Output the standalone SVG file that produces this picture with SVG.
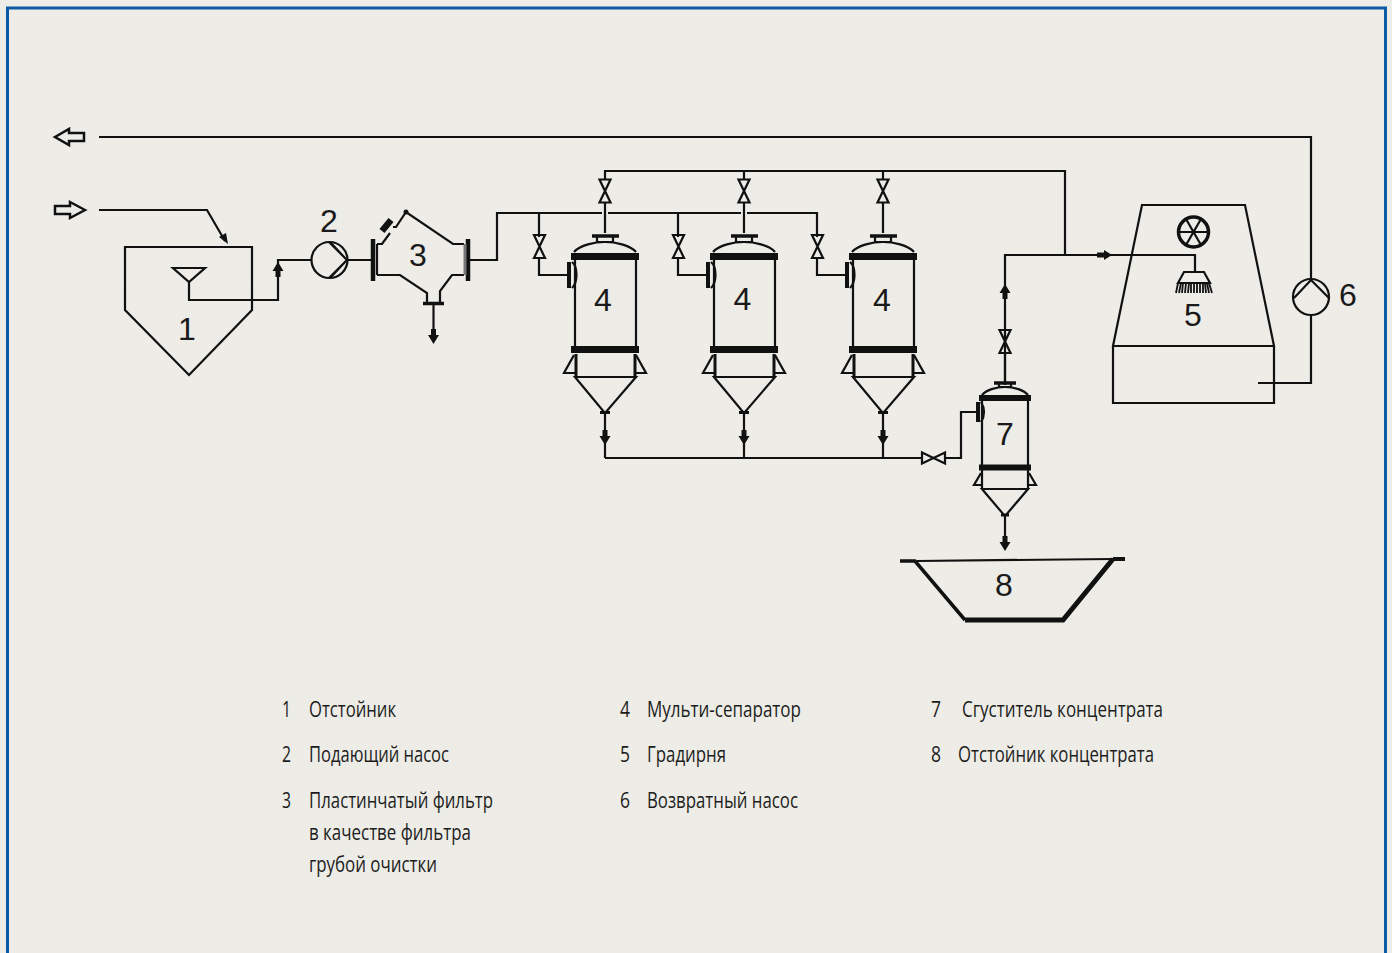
<svg xmlns="http://www.w3.org/2000/svg" xmlns:xlink="http://www.w3.org/1999/xlink" width="1392" height="953" viewBox="0 0 1392 953">
<style>
.l{fill:none;stroke:#111;stroke-width:2.200;stroke-linejoin:miter}
.t{fill:none;stroke:#111;stroke-width:7}
.n{font-family:"Liberation Sans",Arial,sans-serif;font-size:32px;fill:#1a1a1a;text-anchor:middle}
.k{font-family:"Open Sans","Liberation Sans",sans-serif;font-size:21px;font-weight:500;fill:#1c1c1c}
.h{fill:#111;stroke:none}
</style>
<defs>
<g id="vv" class="l"><path d="M-5.500-11.500H5.500L-5.500 11.500H5.500Z"/></g>
<path id="up" class="h" d="M0-8L5.500 1H2.500V7H-2.500V1H-5.500Z"/>
<path id="dn" class="h" d="M0 8L5.500-1H2.500V-7H-2.500V-1H-5.500Z"/>
<g id="sep">
<path class="t" style="stroke-width:3.500" d="M-13-34H14"/>
<path class="l" d="M-8-33V-28H8V-33"/>
<path class="l" d="M-31-18C-25-25-10-28 0-28S25-25 31-18"/>
<path class="t" d="M-34-13.500H34"/>
<path class="l" d="M-30-10V77M31-10V77"/>
<path class="t" d="M-34 79.500H34"/>
<path class="t" style="stroke-width:3" d="M-29 84V107M30 84V107"/>
<path class="l" d="M-31 85L-41 103H-30M31 85L41 103H30"/>
<path class="l" d="M-30 107H31L1 142H-1Z"/>
<path class="t" style="stroke-width:3" d="M-5 142.500H5"/>
<path class="l" d="M0 143V188"/>
<use xlink:href="#dn" href="#dn" y="167"/>
<path class="t" style="stroke-width:4" d="M-36 -8V18"/>
<path class="l" d="M-33-8C-27-3-27 12-33 18"/>
</g>
</defs>
<rect width="1392" height="953" fill="#edece7"/>
<path d="M7.500 953V8H1385.500V953" fill="none" stroke="#0b5aa5" stroke-width="3"/>
<g id="connectors" class="l">
<path d="M99 137H1311V279M1311 315V383H1258"/>
<path d="M99 210H207L225 241"/>
<path d="M189 282V300H278V260H311"/>
<path d="M347 260H371M470 260H497V213H602M608 213H741M747 213H817V237M539 213V237M678 213V237"/>
<path d="M539 258V275H568M678 258V275H707M817 258V275H846"/>
<path d="M605 180V171H1065V255M1005 385V255H1195V272M744 171V180M883 171V180"/>
<path d="M605 202V233M744 202V233M883 202V233"/>
<path d="M605 458H922M945 458H961V412H977"/>
<path d="M433.500 303V338"/>
<use xlink:href="#up" href="#up" x="278" y="270"/>
<use xlink:href="#up" href="#up" x="1005" y="292"/>
<use xlink:href="#dn" href="#dn" x="433.500" y="336"/>
<path class="h" d="M1112 255L1104 250V252.500H1097V257.500H1104V260Z"/>
<path class="h" d="M228 244L219 237L226 233Z"/>
<use xlink:href="#vv" href="#vv" x="539.500" y="246.500"/>
<use xlink:href="#vv" href="#vv" x="678.500" y="246.500"/>
<use xlink:href="#vv" href="#vv" x="817.500" y="246.500"/>
<use xlink:href="#vv" href="#vv" x="605" y="191"/>
<use xlink:href="#vv" href="#vv" x="744" y="191"/>
<use xlink:href="#vv" href="#vv" x="883" y="191"/>
<use xlink:href="#vv" href="#vv" x="1005" y="341.500"/>
<use xlink:href="#vv" href="#vv" transform="translate(933.500 458) rotate(90)"/>
</g>
<g id="n-in" class="l" style="stroke-width:2.500"><path d="M85 210L70 202V206H55V214H70V218Z"/></g>
<g id="n-out" class="l" style="stroke-width:2.500"><path d="M55 137L69 129V133H84V141H69V145Z"/></g>
<g id="n1"><path class="l" d="M125 247H252V310L189 375L125 310ZM173 268H205L189 282Z"/><text class="n" x="187" y="340">1</text></g>
<g id="n2"><circle class="l" cx="329.500" cy="260" r="18"/><path class="l" d="M329 242L347 260L329 278M331 243L345 258M345 262L331 277"/><text class="n" x="329" y="232">2</text></g>
<g id="n3">
<path class="t" style="stroke-width:4.500" d="M373 239V281M468 239V281"/>
<path class="l" d="M377 244V275M377 244H382L390 233M393 227H396L406 212L453 244H464M377 275H400L427 293V303M440 303V291L452 275H464"/>
<path style="stroke:#777;stroke-width:3;fill:none" d="M465 244V275"/>
<path class="t" style="stroke-width:6.500" d="M382 231L391 220"/>
<circle class="h" cx="406" cy="212" r="2.500"/>
<path class="t" style="stroke-width:3.500" d="M423 303.500H444"/>
<text class="n" x="418" y="266">3</text>
</g>
<g id="n4a"><use xlink:href="#sep" href="#sep" x="605" y="270"/><text class="n" x="603" y="311">4</text></g>
<g id="n4b"><use xlink:href="#sep" href="#sep" x="744" y="270"/><text class="n" x="742.500" y="310">4</text></g>
<g id="n4c"><use xlink:href="#sep" href="#sep" x="883" y="270"/><text class="n" x="882" y="311">4</text></g>
<g id="n5">
<path class="l" d="M1142 205H1245L1274 346H1113ZM1113 346V403H1274V346"/>
<circle class="l" style="stroke-width:3.500" cx="1193.500" cy="232" r="15"/>
<path class="l" d="M1179 232H1208M1186 219L1201 245M1201 219L1186 245"/>
<path class="l" d="M1178 283L1184 272H1204L1210 283Z"/>
<path class="l" style="stroke-width:1.800" d="M1176 293L1178 283M1179 293L1181 283M1182 293L1183 283M1185 293L1186 283M1188 293L1189 283M1191 293L1191 283M1194 293L1194 283M1197 293L1197 283M1200 293L1200 283M1203 293L1203 283M1206 293L1205 283M1209 293L1207 283M1212 293L1209 283"/>
<text class="n" x="1193" y="326">5</text>
</g>
<g id="n6"><circle class="l" cx="1311" cy="297" r="18"/><path class="l" d="M1294 298L1311 280L1329 298"/><text class="n" x="1348" y="306">6</text></g>
<g id="n7">
<path class="l" d="M1005 353V382"/>
<path class="t" style="stroke-width:3.500" d="M994 383H1016"/>
<path class="l" d="M999 384V387H1011V384"/>
<path class="l" d="M982 395C986 390 996 387 1005 387S1024 390 1028 395"/>
<path class="t" style="stroke-width:6" d="M979 398H1031M979 467.500H1031"/>
<path class="l" d="M982 400V489M1028 400V489"/>
<path class="l" d="M981 473L974 485H982M1029 473L1036 485H1028"/>
<path class="l" d="M982 489H1028L1006 515H1004Z"/>
<path class="t" style="stroke-width:3" d="M1001 515H1009"/>
<path class="l" d="M1005 516V546"/>
<use xlink:href="#dn" href="#dn" x="1005" y="543"/>
<path class="t" style="stroke-width:4" d="M978 402V422"/>
<path class="l" d="M981 402C985 408 985 416 981 422"/>
<text class="n" x="1005" y="445">7</text>
</g>
<g id="n8">
<path class="l" d="M917 561L1113 559"/>
<path class="t" style="stroke-width:3.500" d="M900 561H915L965 620"/>
<path class="t" style="stroke-width:5" d="M965 620H1063L1113 559"/>
<path class="t" style="stroke-width:4" d="M1113 559H1125"/>
<text class="n" x="1004" y="596">8</text>
</g>
<g id="legend" class="k">
<text x="282" y="717" textLength="9" lengthAdjust="spacingAndGlyphs">1</text><text x="309" y="717" textLength="87" lengthAdjust="spacingAndGlyphs">Отстойник</text>
<text x="282" y="762" textLength="9" lengthAdjust="spacingAndGlyphs">2</text><text x="309" y="762" textLength="140" lengthAdjust="spacingAndGlyphs">Подающий насос</text>
<text x="282" y="808" textLength="9" lengthAdjust="spacingAndGlyphs">3</text><text x="309" y="808" textLength="184" lengthAdjust="spacingAndGlyphs">Пластинчатый фильтр</text>
<text x="309" y="840" textLength="162" lengthAdjust="spacingAndGlyphs">в качестве фильтра</text>
<text x="309" y="872" textLength="128" lengthAdjust="spacingAndGlyphs">грубой очистки</text>
<text x="620" y="717" textLength="10" lengthAdjust="spacingAndGlyphs">4</text><text x="647" y="717" textLength="154" lengthAdjust="spacingAndGlyphs">Мульти-сепаратор</text>
<text x="620" y="762" textLength="10" lengthAdjust="spacingAndGlyphs">5</text><text x="647" y="762" textLength="79" lengthAdjust="spacingAndGlyphs">Градирня</text>
<text x="620" y="808" textLength="10" lengthAdjust="spacingAndGlyphs">6</text><text x="647" y="808" textLength="151" lengthAdjust="spacingAndGlyphs">Возвратный насос</text>
<text x="931" y="717" textLength="10" lengthAdjust="spacingAndGlyphs">7</text><text x="962" y="717" textLength="201" lengthAdjust="spacingAndGlyphs">Сгуститель концентрата</text>
<text x="931" y="762" textLength="10" lengthAdjust="spacingAndGlyphs">8</text><text x="958" y="762" textLength="196" lengthAdjust="spacingAndGlyphs">Отстойник концентрата</text>
</g>
</svg>
